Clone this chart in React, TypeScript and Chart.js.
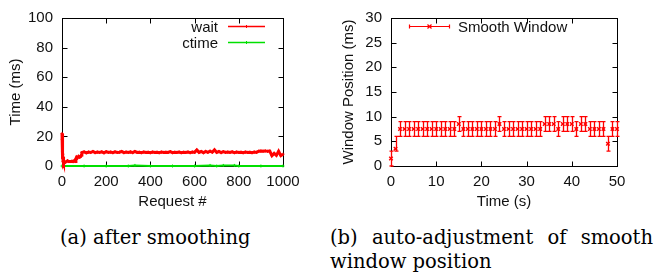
import React, { useEffect, useRef } from "react";
import { Chart, registerables } from "chart.js";

Chart.register(...registerables);

const SANS = "'Liberation Sans', Arial, Helvetica, sans-serif";
const SERIF = "'DejaVu Serif', serif";
const RED = "#ff0000";
const GREEN = "#00e000";

// ---------- (a) after smoothing ----------
const requestX = [
  0, 1, 2, 3, 4, 5, 6, 8, 10, 15, 20, 25, 30, 35, 40, 45, 50, 55, 60, 63, 66, 70, 75, 80, 85, 88,
  90, 100, 110, 120, 130, 140, 150, 160, 170, 180, 190, 200, 210, 220, 230, 240, 250, 260, 270, 280,
  290, 300, 310, 320, 330, 340, 350, 360, 370, 380, 390, 400, 410, 420, 430, 440, 450, 460, 470, 480,
  490, 500, 510, 520, 530, 540, 550, 560, 570, 580, 590, 600, 610, 620, 630, 640, 650, 660, 670, 680,
  690, 700, 710, 720, 730, 740, 750, 760, 770, 780, 790, 800, 810, 820, 830, 840, 850, 860, 870, 880,
  890, 900, 910, 920, 930, 940, 950, 960, 970, 980, 990, 1000,
];
const waitMs = [
  22, 18, 10, 5, 8, 3, 6, 2, 3, 2.5, 3, 3.5, 3, 3, 3, 3.2, 3, 3.5, 3, 5, 6, 5.5, 6.5, 6, 6.5, 7.5,
  9.0, 9.5, 8.9, 9.4, 9.1, 9.8, 9.0, 9.4, 9.1, 9.6, 8.9, 9.7, 9.2, 9.4, 9.0, 9.6, 9.2, 9.3, 9.8, 9.0,
  9.4, 9.1, 9.5, 9.0, 9.8, 9.2, 9.3, 9.0, 9.5, 9.2, 9.3, 9.0, 9.4, 9.2, 9.3, 9.0, 9.4, 9.2, 9.3, 9.2,
  9.7, 9.0, 9.3, 9.2, 9.4, 9.0, 9.3, 9.2, 9.5, 9.0, 9.4, 9.2, 10.8, 9.2, 9.8, 9.0, 9.9, 9.2, 10.0, 9.3,
  11.0, 9.2, 9.8, 9.0, 9.7, 9.2, 9.4, 9.2, 9.6, 9.0, 9.4, 9.2, 9.3, 9.0, 9.4, 9.2, 9.3, 9.0, 9.4, 9.2,
  10.0, 10.1, 10.0, 10.2, 9.9, 10.1, 7.0, 8.5, 7.2, 10.0, 7.0, 8.0,
];
const ctimeX = [0, 100, 200, 300, 330, 400, 500, 600, 670, 700, 730, 780, 800, 900, 1000];
const ctimeMs = [0, 0, 0, 0, 0.4, 0, 0, 0, 0.4, 0, 0.4, 0.4, 0, 0, 0];
const leftXTicks = [0, 200, 400, 600, 800, 1000];
const leftYTicks = [0, 20, 40, 60, 80, 100];

// ---------- (b) smooth window position ----------
const timeS = [
  0, 1, 2, 3, 4, 5, 6, 7, 8, 9, 10, 11, 12, 13, 14, 15, 16, 17, 18, 19, 20, 21, 22, 23, 24, 25,
  26, 27, 28, 29, 30, 31, 32, 33, 34, 35, 36, 37, 38, 39, 40, 41, 42, 43, 44, 45, 46, 47, 48, 49, 50,
];
const windowPos = [
  1.5, 3.5, 7.5, 7.5, 7.5, 7.5, 7.5, 7.5, 7.5, 7.5, 7.5, 7.5, 7.5, 7.5, 7.5, 8.5, 7.5, 7.5, 7.5, 7.5,
  7.5, 7.5, 7.5, 7.5, 8.5, 7.5, 7.5, 7.5, 7.5, 7.5, 7.5, 7.5, 7.5, 7.5, 8.5, 8.5, 8.5, 7.5, 8.5, 8.5,
  8.5, 7.5, 8.5, 8.5, 7.5, 7.5, 7.5, 7.5, 4.5, 7.5, 7.5,
];
const windowLow = [
  0, 3, 6, 6, 6, 6, 6, 6, 6, 6, 6, 6, 6, 6, 6, 7, 6, 6, 6, 6,
  6, 6, 6, 6, 7, 6, 6, 6, 6, 6, 6, 6, 6, 6, 7, 7, 7, 6, 7, 7,
  7, 6, 7, 7, 6, 6, 6, 6, 3, 6, 6,
];
const windowHigh = [
  3, 6, 9, 9, 9, 9, 9, 9, 9, 9, 9, 9, 9, 9, 9, 10, 9, 9, 9, 9,
  9, 9, 9, 9, 10, 9, 9, 9, 9, 9, 9, 9, 9, 9, 10, 10, 10, 9, 10, 10,
  10, 9, 10, 10, 9, 9, 9, 9, 6, 9, 9,
];
const rightXTicks = [0, 10, 20, 30, 40, 50];
const rightYTicks = [0, 5, 10, 15, 20, 25, 30];

const tickFont = { family: SANS, size: 15 };
const TEXT = "#111";

// gnuplot-style frame with inward ticks on all four sides
const framePlugin = {
  id: "gpFrame",
  beforeDatasetsDraw(chart: any) {
    const { ctx, chartArea: a, scales } = chart;
    ctx.save();
    ctx.strokeStyle = "#000";
    ctx.lineWidth = 1;
    const L = Math.round(a.left) + 0.5;
    const R = Math.round(a.right) + 0.5;
    const T = Math.round(a.top) + 0.5;
    const B = Math.round(a.bottom) + 0.5;
    ctx.strokeRect(L, T, R - L, B - T);
    const len = 5;
    ctx.beginPath();
    for (const t of scales.x.ticks) {
      const px = Math.round(scales.x.getPixelForValue(t.value)) + 0.5;
      ctx.moveTo(px, B);
      ctx.lineTo(px, B - len);
      ctx.moveTo(px, T);
      ctx.lineTo(px, T + len);
    }
    for (const t of scales.y.ticks) {
      const py = Math.round(scales.y.getPixelForValue(t.value)) + 0.5;
      ctx.moveTo(L, py);
      ctx.lineTo(L + len, py);
      ctx.moveTo(R, py);
      ctx.lineTo(R - len, py);
    }
    ctx.stroke();
    ctx.restore();
  },
};

function drawPlus(ctx: CanvasRenderingContext2D, x: number, y: number, r: number) {
  ctx.beginPath();
  ctx.moveTo(x - r, y);
  ctx.lineTo(x + r, y);
  ctx.moveTo(x, y - r);
  ctx.lineTo(x, y + r);
  ctx.stroke();
}
function drawX(ctx: CanvasRenderingContext2D, x: number, y: number, r: number) {
  ctx.beginPath();
  ctx.moveTo(x - r, y - r);
  ctx.lineTo(x + r, y + r);
  ctx.moveTo(x - r, y + r);
  ctx.lineTo(x + r, y - r);
  ctx.stroke();
}

const leftLegendPlugin = {
  id: "leftLegend",
  afterDraw(chart: any) {
    const { ctx } = chart;
    const ds = chart.data.datasets;
    ctx.save();
    ctx.font = `15px ${SANS}`;
    ctx.textAlign = "right";
    ctx.textBaseline = "middle";
    ds.forEach((d: any, i: number) => {
      const y = 26.5 + i * 16;
      ctx.fillStyle = TEXT;
      ctx.fillText(d.label, 218, y + 1);
      ctx.strokeStyle = d.borderColor;
      ctx.lineWidth = 1.5;
      ctx.beginPath();
      ctx.moveTo(228, y);
      ctx.lineTo(265, y);
      ctx.stroke();
      ctx.lineWidth = 1;
      drawPlus(ctx, 246.5, y, 1.5);
    });
    ctx.restore();
  },
};

const errorBarPlugin = {
  id: "errorBars",
  afterDatasetsDraw(chart: any) {
    const { ctx, scales } = chart;
    ctx.save();
    ctx.strokeStyle = RED;
    ctx.lineWidth = 1.3;
    ctx.beginPath();
    timeS.forEach((t, i) => {
      const x = Math.round(scales.x.getPixelForValue(t)) + 0.5;
      const yl = scales.y.getPixelForValue(windowLow[i]);
      const yh = scales.y.getPixelForValue(windowHigh[i]);
      ctx.moveTo(x, yl);
      ctx.lineTo(x, yh);
      ctx.moveTo(x - 2, yl);
      ctx.lineTo(x + 2, yl);
      ctx.moveTo(x - 2, yh);
      ctx.lineTo(x + 2, yh);
    });
    ctx.stroke();
    ctx.restore();
  },
};

const rightLegendPlugin = {
  id: "rightLegend",
  afterDraw(chart: any) {
    const { ctx } = chart;
    const d = chart.data.datasets[0];
    const y = 26.5;
    ctx.save();
    ctx.strokeStyle = RED;
    ctx.lineWidth = 1.2;
    ctx.beginPath();
    ctx.moveTo(82, y);
    ctx.lineTo(123, y);
    ctx.moveTo(82.5, y - 2);
    ctx.lineTo(82.5, y + 2);
    ctx.moveTo(122.5, y - 2);
    ctx.lineTo(122.5, y + 2);
    ctx.stroke();
    drawX(ctx, 102.5, y, 2);
    ctx.fillStyle = TEXT;
    ctx.font = `15px ${SANS}`;
    ctx.textAlign = "left";
    ctx.textBaseline = "middle";
    ctx.fillText(d.label, 131, y + 1);
    ctx.restore();
  },
};

function axisX(ticks: number[], title: string, min: number, max: number) {
  return {
    type: "linear",
    min,
    max,
    afterBuildTicks: (s: any) => {
      s.ticks = ticks.map((v) => ({ value: v }));
    },
    afterFit: (s: any) => {
      s.height = 49;
    },
    ticks: {
      font: tickFont,
      color: TEXT,
      padding: 7,
      maxRotation: 0,
      autoSkip: false,
      callback: (v: any) => String(v),
    },
    grid: { display: false, drawTicks: false },
    border: { display: false },
    title: { display: true, text: title, font: tickFont, color: TEXT, padding: { top: 0, bottom: 4 } },
  };
}
function axisY(ticks: number[], title: string, min: number, max: number, width: number, titlePad: number) {
  return {
    type: "linear",
    min,
    max,
    afterBuildTicks: (s: any) => {
      s.ticks = ticks.map((v) => ({ value: v }));
    },
    afterFit: (s: any) => {
      s.width = width;
    },
    ticks: { font: tickFont, color: TEXT, padding: 9, autoSkip: false, callback: (v: any) => String(v) },
    grid: { display: false, drawTicks: false },
    border: { display: false },
    title: { display: true, text: title, font: tickFont, color: TEXT, padding: { top: titlePad, bottom: 0 } },
  };
}

function leftConfig(): any {
  return {
    type: "line",
    data: {
      datasets: [
        {
          label: "wait",
          data: requestX.map((x, i) => ({ x, y: waitMs[i] })),
          borderColor: RED,
          backgroundColor: RED,
          borderWidth: 3,
          pointStyle: "cross",
          pointRadius: 1.5,
          pointBorderWidth: 1,
          tension: 0,
          clip: false,
        },
        {
          label: "ctime",
          data: ctimeX.map((x, i) => ({ x, y: ctimeMs[i] })),
          borderColor: GREEN,
          backgroundColor: GREEN,
          borderWidth: 2,
          pointStyle: "cross",
          pointRadius: 1.5,
          pointBorderWidth: 1,
          tension: 0,
          clip: false,
        },
      ],
    },
    options: {
      animation: false,
      responsive: false,
      devicePixelRatio: 1,
      layout: { padding: { left: 0, right: 44, top: 16, bottom: 0 } },
      plugins: { legend: { display: false }, tooltip: { enabled: false } },
      scales: {
        x: axisX(leftXTicks, "Request #", 0, 1000),
        y: axisY(leftYTicks, "Time (ms)", 0, 100, 62, 7),
      },
    },
    plugins: [framePlugin, leftLegendPlugin],
  };
}

function rightConfig(): any {
  return {
    type: "line",
    data: {
      datasets: [
        {
          label: "Smooth Window",
          data: timeS.map((x, i) => ({ x, y: windowPos[i] })),
          borderColor: RED,
          backgroundColor: RED,
          showLine: false,
          pointStyle: "crossRot",
          pointRadius: 2.5,
          pointBorderWidth: 1.4,
          clip: false,
        },
      ],
    },
    options: {
      animation: false,
      responsive: false,
      devicePixelRatio: 1,
      layout: { padding: { left: 0, right: 38, top: 16, bottom: 0 } },
      plugins: { legend: { display: false }, tooltip: { enabled: false } },
      scales: {
        x: axisX(rightXTicks, "Time (s)", 0, 50),
        y: axisY(rightYTicks, "Window Position (ms)", 0, 30, 64, 12.5),
      },
    },
    plugins: [framePlugin, errorBarPlugin, rightLegendPlugin],
  };
}

function ChartCanvas(props: { makeConfig: () => any; width: number; height: number; left: number }) {
  const ref = useRef<HTMLCanvasElement>(null);
  useEffect(() => {
    const chart = new Chart(ref.current as HTMLCanvasElement, props.makeConfig());
    return () => chart.destroy();
  }, []);
  return (
    <canvas
      ref={ref}
      width={props.width}
      height={props.height}
      style={{ position: "absolute", left: props.left, top: 0, width: props.width, height: props.height }}
    />
  );
}

const captionStyle: React.CSSProperties = {
  position: "absolute",
  fontFamily: SERIF,
  fontSize: 19.5,
  lineHeight: "24px",
  color: "#000",
  whiteSpace: "nowrap",
};

export default function App() {
  return (
    <div style={{ position: "absolute", left: 0, top: 0, width: 655, height: 275, background: "#fff", overflow: "hidden" }}>
      <ChartCanvas makeConfig={leftConfig} width={327} height={215} left={0} />
      <ChartCanvas makeConfig={rightConfig} width={328} height={215} left={327} />
      <div style={{ ...captionStyle, left: 60, top: 226 }}>(a) after smoothing</div>
      <div
        style={{
          ...captionStyle,
          left: 330,
          top: 226,
          width: 323,
          display: "flex",
          justifyContent: "space-between",
        }}
      >
        <span>(b)</span>
        <span>auto-adjustment</span>
        <span>of</span>
        <span>smooth</span>
      </div>
      <div style={{ ...captionStyle, left: 330, top: 250 }}>window position</div>
    </div>
  );
}
